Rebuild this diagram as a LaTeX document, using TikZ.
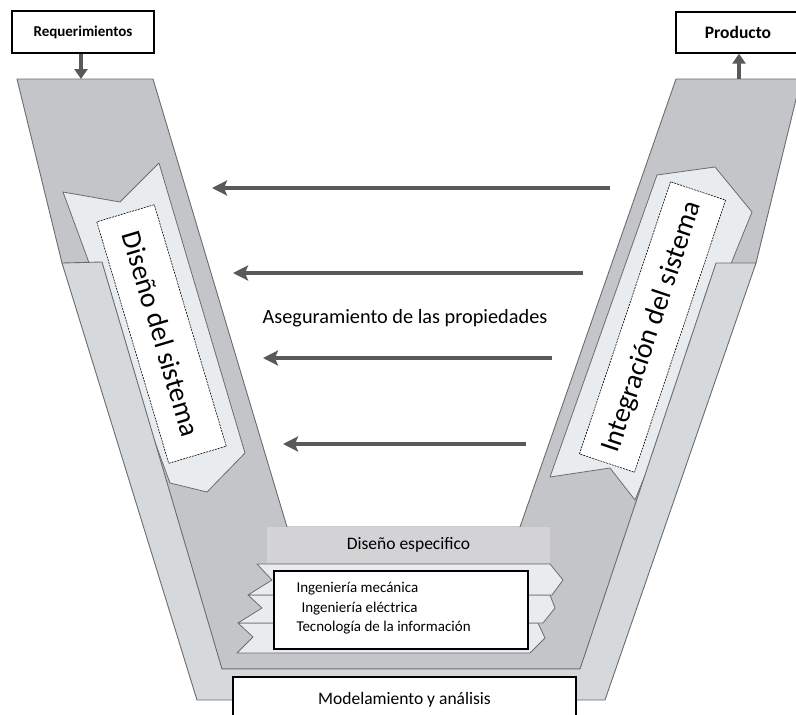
\documentclass[tikz,border=0pt]{standalone}
\usepackage{fontspec}
\setmainfont{Carlito}
\usetikzlibrary{arrows.meta}
\definecolor{bandgray}{HTML}{C3C5C9}
\definecolor{sidegray}{HTML}{D5D9DC}
\definecolor{panelgray}{HTML}{E9ECEF}
\definecolor{headgray}{HTML}{D3D2D4}
\definecolor{edgegray}{HTML}{6B6C6E}
\definecolor{arrowgray}{HTML}{58595B}

\begin{document}
\begin{tikzpicture}[x=1pt,y=-1pt,
        band/.style={fill=bandgray, draw=edgegray, line width=0.9pt, line join=round},
        side/.style={fill=sidegray, draw=edgegray, line width=0.9pt, line join=round},
        panel/.style={fill=panelgray, draw=edgegray, line width=0.8pt, line join=round},
        tag/.style={draw=black, dash pattern=on 2pt off 1pt, line width=0.6pt, fill=white, inner sep=0pt, font=\fontsize{28}{30}\selectfont},
        namebox/.style={draw=black, line width=1.3pt, fill=white, inner sep=0pt},
        flow/.style={draw=arrowgray, line width=4pt, -{Stealth[length=15pt,width=15pt,inset=3pt]}},
        feed/.style={draw=arrowgray, line width=4pt, -{Triangle[length=10pt,width=13pt]}}]
        \useasboundingbox (0,0) rectangle (796,715);
        \clip (0,0) rectangle (796,715);

        % V band
        \draw[band] (17,79) -- (153,79) -- (287,527) -- (520,527) -- (676,79) -- (801,79)
            -- (756,263) -- (580,669) -- (222,669) -- (62,263) -- cycle;

        % Panels of both arms
        \draw[panel] (63,192) -- (120,202) -- (159,163) -- (245,453) -- (207,492) -- (170,483) -- cycle;
        \draw[panel] (657,175) -- (715,167) -- (752,212) -- (635,500) -- (610,468) -- (550,477) -- cycle;

        % Side face
        \draw[side] (62,263) -- (102,262) -- (222,669) -- (580,669) -- (716,263) -- (756,263)
            -- (605,700) -- (197,700) -- cycle;

        % Specific design layers
        \draw[panel] (238,623) -- (538,623) -- (545,638) -- (530,653) -- (237,653) -- (253,637) -- cycle;
        \draw[panel] (248,595) -- (550,595) -- (555,608) -- (543,623) -- (238,623) -- (262,608) -- cycle;
        \draw[panel] (257,564) -- (550,564) -- (563,580) -- (552,595) -- (248,595) -- (272,580) -- cycle;
        \node[fill=headgray, minimum width=283pt, minimum height=36pt, inner sep=0pt,
            font=\fontsize{17.5}{20}\selectfont] (spec) at (408.5,545) {Diseño especifico};
        \node[namebox, line width=1.1pt, minimum width=254pt, minimum height=78pt] (disc) at (401,610) {};
        \node[anchor=west, font=\fontsize{15}{17}\selectfont] (mech) at (293,589) {Ingeniería mecánica};
        \node[anchor=west, font=\fontsize{15}{17}\selectfont] (elec) at (298,609) {Ingeniería eléctrica};
        \node[anchor=west, font=\fontsize{15}{17}\selectfont] (info) at (293,628) {Tecnología de la información};

        \node[namebox, line width=1.1pt, minimum width=343pt, minimum height=46pt,
            font=\fontsize{17.5}{20}\selectfont] (model) at (404.5,700) {Modelamiento y análisis};

        % Arm labels
        \node[tag, rotate=-73.4, minimum width=252pt, minimum height=60pt] (sysdes) at (161.5,334) {Diseño del sistema};
        \node[tag, rotate=71.5, minimum width=287pt, minimum height=58pt] (sysint) at (652.5,327) {Integración del sistema};

        % Property assurance
        \coordinate (src1) at (610,188); \coordinate (dst1) at (212,188);
        \coordinate (src2) at (583,273); \coordinate (dst2) at (233,273);
        \coordinate (src3) at (552,358); \coordinate (dst3) at (263,358);
        \coordinate (src4) at (526,444); \coordinate (dst4) at (283,444);
        \draw[flow] (src1) -- (dst1);
        \draw[flow] (src2) -- (dst2);
        \draw[flow] (src3) -- (dst3);
        \draw[flow] (src4) -- (dst4);
        \node[font=\fontsize{20.3}{22}\selectfont] (prop) at (405,318) {Aseguramiento de las propiedades};

        % Input and output
        \node[namebox, minimum width=142pt, minimum height=42pt, font=\bfseries\fontsize{15}{17}\selectfont] (req) at (83,32) {Requerimientos};
        \node[namebox, minimum width=124pt, minimum height=41pt, font=\bfseries\fontsize{17.5}{20}\selectfont] (prod) at (738,32.5) {Producto\hspace{22pt}};
        \coordinate (reqin) at (81,79);
        \coordinate (prodout) at (739,79);
        \draw[feed] (reqin |- req.south) -- (reqin);
        \draw[feed] (prodout) -- (prodout |- prod.south);
    \end{tikzpicture}
\end{document}
